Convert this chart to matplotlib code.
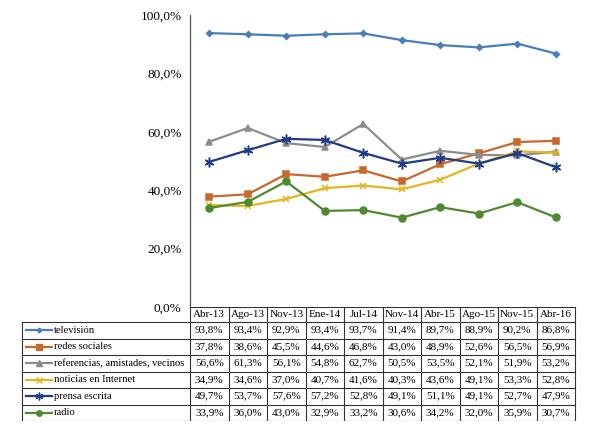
import numpy as np
import matplotlib
matplotlib.use("Agg")
import matplotlib.pyplot as plt
from matplotlib.ticker import FuncFormatter

plt.rcParams['font.family'] = ['Liberation Serif', 'DejaVu Serif']

fechas = ["Abr-13", "Ago-13", "Nov-13", "Ene-14", "Jul-14", "Nov-14",
          "Abr-15", "Ago-15", "Nov-15", "Abr-16"]

television = [93.8, 93.4, 92.9, 93.4, 93.7, 91.4, 89.7, 88.9, 90.2, 86.8]
redes_sociales = [37.8, 38.6, 45.5, 44.6, 46.8, 43.0, 48.9, 52.6, 56.5, 56.9]
referencias = [56.6, 61.3, 56.1, 54.8, 62.7, 50.5, 53.5, 52.1, 51.9, 53.2]
noticias_internet = [34.9, 34.6, 37.0, 40.7, 41.6, 40.3, 43.6, 49.1, 53.3, 52.8]
prensa_escrita = [49.7, 53.7, 57.6, 57.2, 52.8, 49.1, 51.1, 49.1, 52.7, 47.9]
radio = [33.9, 36.0, 43.0, 32.9, 33.2, 30.6, 34.2, 32.0, 35.9, 30.7]

nombres = ["televisión", "redes sociales", "referencias, amistades, vecinos",
           "noticias en Internet", "prensa escrita", "radio"]
series = [television, redes_sociales, referencias, noticias_internet,
          prensa_escrita, radio]

colores = ["#4A7EBB", "#C8682C", "#8C8C8C", "#E3B51E", "#1F3C88", "#4F8A30"]
marcadores = ["D", "s", "^", "x", (6, 2, 0), "o"]
tamanos = [3, 4.8, 5, 5, 7, 5]

W, H = 590, 429
fig = plt.figure(figsize=(W / 100, H / 100), dpi=100)

# chart area (pixel layout of the reference)
x0, x1 = 190, 575
y_top, y_bot = 15, 307
ax = fig.add_axes([x0 / W, 1 - y_bot / H, (x1 - x0) / W, (y_bot - y_top) / H])

x = np.arange(len(fechas))
for vals, c, m, s in zip(series, colores, marcadores, tamanos):
    ax.plot(x, np.array(vals) / 100, color=c, lw=1.6, marker=m, ms=s,
            mec=c, mfc=c, mew=1.1)

ax.set_xlim(-0.5, len(fechas) - 0.5)
ax.set_ylim(0, 1)
ax.set_yticks(np.arange(0, 1.01, 0.2))
ax.yaxis.set_major_formatter(FuncFormatter(lambda v, p: f"{v*100:.1f}%".replace(".", ",")))
ax.tick_params(axis="y", length=0, labelsize=9.5, pad=6)
ax.set_xticks([])
for side in ["top", "right", "bottom"]:
    ax.spines[side].set_visible(False)
ax.spines["left"].set_color("#555555")
ax.spines["left"].set_linewidth(0.9)

# data table below the chart
tx0 = 22
ty0, ty_head, ty1 = 307, 322, 421
tax = fig.add_axes([0, 1 - ty1 / H, 1, (ty1 - ty0) / H])
tax.set_xlim(0, W)
tax.set_ylim(ty1, ty0)
tax.axis("off")

ncol = len(fechas)
cw = (x1 - x0) / ncol
nrow = len(nombres)
rh = (ty1 - ty_head) / nrow
lc = "#333333"
lw = 0.8
fs = 8

# header cells
tax.plot([x0, x1], [ty0, ty0], color=lc, lw=lw)
for i in range(ncol + 1):
    tax.plot([x0 + i * cw] * 2, [ty0, ty1], color=lc, lw=lw)
for i, f in enumerate(fechas):
    tax.text(x0 + (i + 0.5) * cw, (ty0 + ty_head) / 2, f, ha="center",
             va="center", fontsize=fs)

# body rows
for r in range(nrow + 1):
    tax.plot([tx0, x1], [ty_head + r * rh] * 2, color=lc, lw=lw)
tax.plot([tx0, tx0], [ty_head, ty1], color=lc, lw=lw)

for r, (nom, vals, c, m, s) in enumerate(zip(nombres, series, colores,
                                             marcadores, tamanos)):
    yc = ty_head + (r + 0.5) * rh
    tax.plot([tx0 + 4, tx0 + 30], [yc, yc], color=c, lw=1.6)
    tax.plot([tx0 + 17], [yc], marker=m, color=c, ms=s * 0.8, mew=1.0)
    tax.text(tx0 + 32, yc, nom, ha="left", va="center", fontsize=7.6)
    for i, v in enumerate(vals):
        tax.text(x0 + (i + 0.5) * cw, yc, f"{v:.1f}%".replace(".", ","),
                 ha="center", va="center", fontsize=fs)

fig.savefig("out.png", dpi=100)
